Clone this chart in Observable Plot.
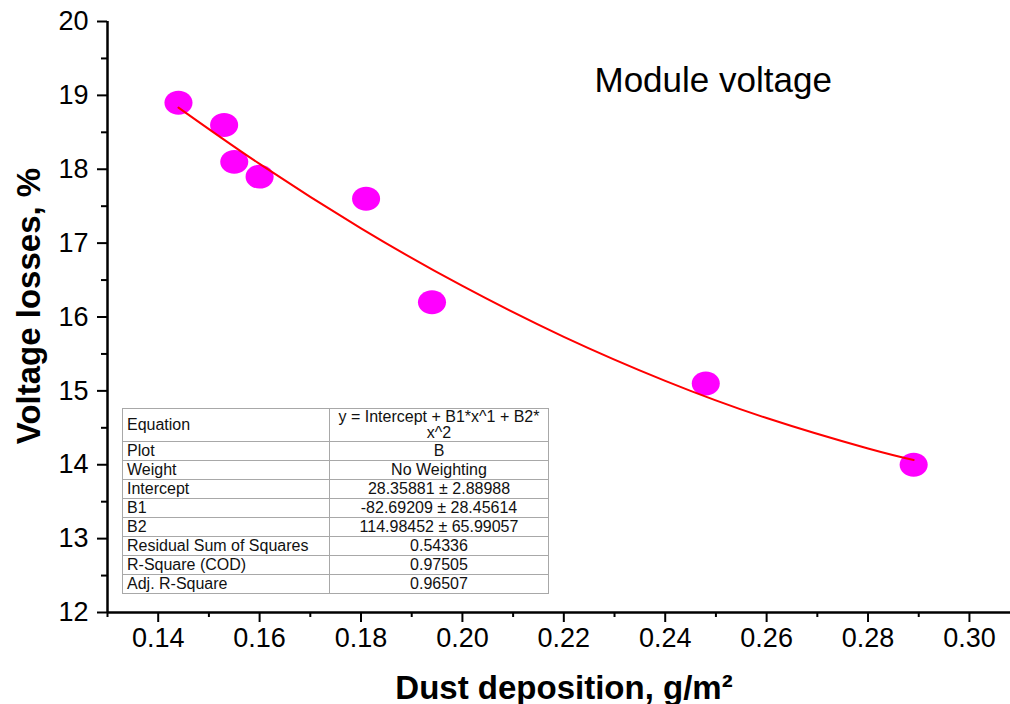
<!DOCTYPE html>
<html>
<head>
<meta charset="utf-8">
<script src="https://cdn.jsdelivr.net/npm/d3@7"></script>
<script src="https://cdn.jsdelivr.net/npm/@observablehq/plot@0.6"></script>
<style>
  html, body { margin: 0; padding: 0; background: #fff; }
  #wrap { position: relative; width: 1010px; height: 704px; font-family: "Liberation Sans", Arial, sans-serif; }
  #fit { position: absolute; left: 122px; top: 408px; border-collapse: collapse; table-layout: fixed; width: 427px; font-family: "Liberation Sans", Arial, sans-serif; font-size: 16px; color: #111; background: #fff; }
  #fit td { border: 1px solid #a8a8a8; padding: 0 4px; height: 18px; line-height: 18px; white-space: nowrap; overflow: visible; }
  #fit td.l { width: 198px; text-align: left; }
  #fit td.v { text-align: center; }
  #fit tr.eq td { height: 32px; line-height: 16px; }
</style>
</head>
<body>
<div id="wrap"></div>
<script>
// Data
const dust = [0.144, 0.153, 0.155, 0.160, 0.181, 0.194, 0.248, 0.289];
const losses = [18.9, 18.6, 18.1, 17.9, 17.6, 16.2, 15.1, 14.0];

// Fitted curve samples (y = 28.35881 - 82.69209 x + 114.98452 x^2)
const fitX = [0.144, 0.16, 0.18, 0.20, 0.22, 0.24, 0.26, 0.28, 0.289];
const fitY = [18.835, 18.072, 17.200, 16.420, 15.732, 15.136, 14.632, 14.220, 14.064];

// Axis ticks
const xMajor = [0.14, 0.16, 0.18, 0.20, 0.22, 0.24, 0.26, 0.28, 0.30];
const xMinor = [0.13, 0.15, 0.17, 0.19, 0.21, 0.23, 0.25, 0.27, 0.29];
const yMajor = [12, 13, 14, 15, 16, 17, 18, 19, 20];
const yMinor = [12.5, 13.5, 14.5, 15.5, 16.5, 17.5, 18.5, 19.5];

// Texts
const title = "Module voltage";
const xLabel = "Dust deposition, g/m\u00B2";
const yLabel = "Voltage losses, %";

// Fit table
const tableLabels = ["Equation", "Plot", "Weight", "Intercept", "B1", "B2", "Residual Sum of Squares", "R-Square (COD)", "Adj. R-Square"];
const tableValues = ["y = Intercept + B1*x^1 + B2*\nx^2", "B", "No Weighting", "28.35881 \u00B1 2.88988", "-82.69209 \u00B1 28.45614", "114.98452 \u00B1 65.99057", "0.54336", "0.97505", "0.96507"];

const points = dust.map((x, i) => ({x, y: losses[i]}));
const fit = fitX.map((x, i) => ({x, y: fitY[i]}));

const ellipse = {
  draw(ctx, size) {
    const r = Math.sqrt(size / Math.PI);
    const rx = r * 1.08, ry = r * 0.92, k = 0.5523;
    ctx.moveTo(rx, 0);
    ctx.bezierCurveTo(rx, ry * k, rx * k, ry, 0, ry);
    ctx.bezierCurveTo(-rx * k, ry, -rx, ry * k, -rx, 0);
    ctx.bezierCurveTo(-rx, -ry * k, -rx * k, -ry, 0, -ry);
    ctx.bezierCurveTo(rx * k, -ry, rx, -ry * k, rx, 0);
    ctx.closePath();
  }
};

const chart = Plot.plot({
  width: 1010,
  height: 704,
  marginLeft: 107,
  marginRight: 0,
  marginTop: 21,
  marginBottom: 92,
  style: {fontFamily: "'Liberation Sans', Arial, sans-serif", background: "#fff", color: "#000"},
  x: {domain: [0.13, 0.3081]},
  y: {domain: [12, 20]},
  marks: [
    Plot.axisX({ticks: xMajor, tickSize: 10, tickPadding: 5, tickFormat: d3.format(".2f"), fontSize: 27, strokeWidth: 2, label: null}),
    Plot.axisX({ticks: xMinor, tickSize: 5, tickFormat: () => "", strokeWidth: 2, label: null}),
    Plot.axisY({ticks: yMajor, tickSize: 10, tickPadding: 9, tickFormat: d3.format("d"), fontSize: 27, strokeWidth: 2, label: null}),
    Plot.axisY({ticks: yMinor, tickSize: 6, tickFormat: () => "", strokeWidth: 2, label: null}),
    Plot.ruleY([12], {stroke: "#000", strokeWidth: 2.5}),
    Plot.ruleX([0.13], {stroke: "#000", strokeWidth: 2.5}),
    Plot.dot(points, {x: "x", y: "y", r: 13, symbol: ellipse, fill: "#ff00ff", stroke: "none"}),
    Plot.line(fit, {x: "x", y: "y", curve: "natural", stroke: "#ff0000", strokeWidth: 2}),
    Plot.text([title], {frameAnchor: "top-left", dx: 487, dy: 70, textAnchor: "start", lineAnchor: "bottom", fontSize: 35, fill: "#000"}),
    Plot.text([xLabel], {frameAnchor: "bottom", dx: 5, dy: 86, textAnchor: "middle", lineAnchor: "bottom", fontSize: 33, fontWeight: "bold", fill: "#000"}),
    Plot.text([yLabel], {frameAnchor: "left", dx: -78, dy: -11, rotate: -90, textAnchor: "middle", lineAnchor: "middle", fontSize: 33, fontWeight: "bold", fill: "#000"})
  ]
});

const wrap = document.getElementById("wrap");
wrap.appendChild(chart);

const table = document.createElement("table");
table.id = "fit";
tableLabels.forEach((lab, i) => {
  const tr = document.createElement("tr");
  if (i === 0) tr.className = "eq";
  const a = document.createElement("td"); a.className = "l"; a.textContent = lab;
  const b = document.createElement("td"); b.className = "v";
  tableValues[i].split("\n").forEach((line, j) => {
    if (j > 0) b.appendChild(document.createElement("br"));
    b.appendChild(document.createTextNode(line));
  });
  tr.appendChild(a); tr.appendChild(b);
  table.appendChild(tr);
});
wrap.appendChild(table);
</script>
</body>
</html>
